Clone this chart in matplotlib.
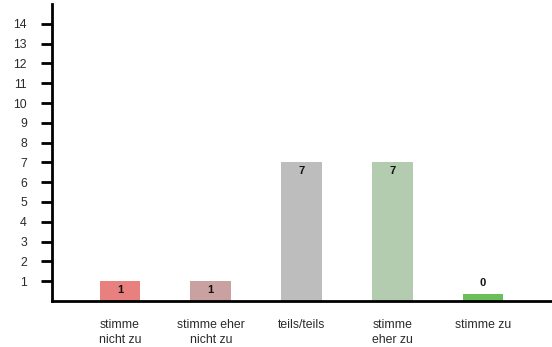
import numpy as np
import matplotlib.pyplot as plt

# answer categories and counts
categories = ["stimme\nnicht zu", "stimme eher\nnicht zu", "teils/teils", "stimme\neher zu", "stimme zu"]
counts = [1, 1, 7, 7, 0]
colors = ["#E88080", "#C9A1A1", "#BDBDBD", "#B3CBAE", "#6BBF59"]
yticks = list(range(1, 15))

plt.rcParams["font.family"] = ["Liberation Sans", "DejaVu Sans"]

fig = plt.figure(figsize=(5.52, 3.47), dpi=100)
ax = fig.add_axes([52 / 552, 46 / 347, 500 / 552, 297 / 347])

x = np.arange(len(categories))
# zero counts still get a thin stub so the bar stays visible
shown = [max(c, 0.35) for c in counts]
ax.bar(x, shown, width=0.45, color=colors, zorder=2)

for xi, c, h in zip(x, counts, shown):
    if c > 0:
        ax.text(xi, h - 0.45, str(c), ha="center", va="center",
                fontsize=8, fontweight="bold", color="#111111")
    else:
        ax.text(xi, h + 0.3, str(c), ha="center", va="bottom",
                fontsize=8, fontweight="bold", color="#111111")

ax.set_xlim(-0.75, 4.76)
ax.set_ylim(0, 15)
ax.set_xticks(x)
ax.set_xticklabels(categories, fontsize=8.8, color="#2a2a2a", linespacing=1.35)
ax.set_yticks(yticks)
ax.set_yticklabels([str(t) for t in yticks], fontsize=8.8, color="#2a2a2a")

ax.tick_params(axis="x", length=0, pad=13)
ax.tick_params(axis="y", direction="out", length=8, width=2, pad=10, color="black")

for s in ["top", "right"]:
    ax.spines[s].set_visible(False)
ax.spines["left"].set_linewidth(2)
ax.spines["bottom"].set_linewidth(2)

fig.savefig("out.png", dpi=100)
